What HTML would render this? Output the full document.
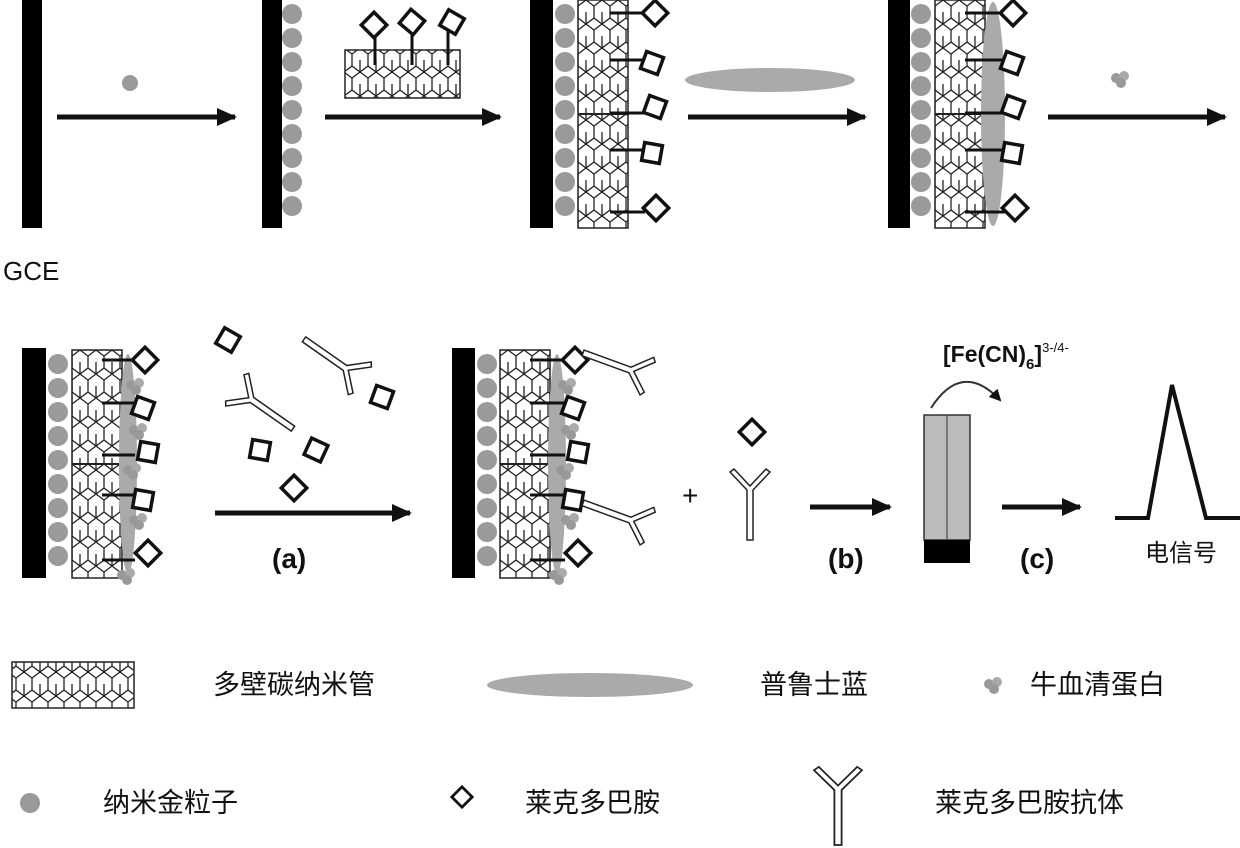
<!DOCTYPE html>
<html><head><meta charset="utf-8"><style>
html,body{margin:0;padding:0;background:#fff;width:1240px;height:848px;overflow:hidden}
svg{display:block}
.cn{font-family:"Liberation Sans","Noto Sans CJK SC",sans-serif;font-size:27px;fill:#111}
.lb{font-family:"Liberation Sans",sans-serif;font-weight:bold;font-size:28px;fill:#111}
</style></head><body>
<svg width="1240" height="848" viewBox="0 0 1240 848" xmlns="http://www.w3.org/2000/svg">
<defs>
<marker id="ah" markerWidth="20" markerHeight="20" refX="18" refY="10" orient="auto" markerUnits="userSpaceOnUse"><path d="M0,1 L20,10 L0,19 z" fill="#111"/></marker>
<marker id="ah2" markerWidth="12" markerHeight="12" refX="10" refY="6" orient="auto" markerUnits="userSpaceOnUse"><path d="M0,0 L12,6 L0,12 z" fill="#111"/></marker>
<pattern id="hex" width="16" height="24" patternUnits="userSpaceOnUse">
<path d="M0,6 L8,0 L16,6 M8,0 L8,-4 M0,6 L0,18 L8,24 L16,18 L16,6 M8,12 L8,24" fill="none" stroke="#222" stroke-width="1.3"/>
</pattern>
<g id="dots">
<circle cx="0" cy="14" r="10" fill="#9a9a9a"/><circle cx="0" cy="38" r="10" fill="#9a9a9a"/><circle cx="0" cy="62" r="10" fill="#9a9a9a"/><circle cx="0" cy="86" r="10" fill="#9a9a9a"/><circle cx="0" cy="110" r="10" fill="#9a9a9a"/><circle cx="0" cy="134" r="10" fill="#9a9a9a"/><circle cx="0" cy="158" r="10" fill="#9a9a9a"/><circle cx="0" cy="182" r="10" fill="#9a9a9a"/><circle cx="0" cy="206" r="10" fill="#9a9a9a"/>
</g>
<g id="cnt">
<rect x="0" y="0" width="50" height="228" fill="url(#hex)" stroke="#222" stroke-width="1.5"/>
<line x1="0" y1="114" x2="50" y2="114" stroke="#222" stroke-width="2"/>
</g>
<rect id="dia" x="-9" y="-9" width="18" height="18" fill="#fff" stroke="#111" stroke-width="3.5"/>
<g id="ab" fill="#fff" stroke="#222" stroke-width="1.5">
<path d="M-3,0 L-3,50 L3,50 L3,0 L20,-18 L16,-21 L0,-4 L-16,-21 L-20,-18 z"/>
</g>
<g id="bsa"><circle cx="-4" cy="0" r="5" fill="#999"/><circle cx="4" cy="-2" r="5" fill="#aaa"/><circle cx="1" cy="5" r="5" fill="#999"/></g>
</defs>

<!-- Row 1 -->
<rect x="22" y="0" width="20" height="228" fill="#000"/>
<text x="3" y="280" font-family="Liberation Sans,sans-serif" font-size="26" fill="#111">GCE</text>
<line x1="57" y1="117" x2="235" y2="117" stroke="#111" stroke-width="5" marker-end="url(#ah)"/>
<circle cx="130" cy="83" r="8" fill="#999"/>

<rect x="262" y="0" width="20" height="228" fill="#000"/>
<use href="#dots" x="292" y="0"/>
<line x1="325" y1="117" x2="500" y2="117" stroke="#111" stroke-width="5" marker-end="url(#ah)"/>
<rect x="345" y="50" width="115" height="48" fill="url(#hex)" stroke="#222" stroke-width="1.5"/>
<g stroke="#111" stroke-width="3"><line x1="375" y1="30" x2="375" y2="65"/><line x1="412" y1="28" x2="412" y2="65"/><line x1="448" y1="28" x2="448" y2="65"/></g>
<use href="#dia" transform="translate(374,25) rotate(45)"/><use href="#dia" transform="translate(412,22) rotate(40)"/><use href="#dia" transform="translate(452,22) rotate(30)"/>

<rect x="530" y="0" width="23" height="228" fill="#000"/>
<use href="#dots" x="565" y="0"/>
<use href="#cnt" x="578" y="0"/>
<g stroke="#111" stroke-width="3"><line x1="610" y1="13" x2="645" y2="13"/><line x1="610" y1="60" x2="645" y2="60"/><line x1="610" y1="113" x2="645" y2="113"/><line x1="610" y1="150" x2="645" y2="150"/><line x1="610" y1="212" x2="645" y2="212"/></g>
<use href="#dia" transform="translate(655,13) rotate(45)"/><use href="#dia" transform="translate(652,63) rotate(20)"/><use href="#dia" transform="translate(655,107) rotate(20)"/><use href="#dia" transform="translate(652,153) rotate(10)"/><use href="#dia" transform="translate(656,208) rotate(45)"/>
<line x1="688" y1="117" x2="865" y2="117" stroke="#111" stroke-width="5" marker-end="url(#ah)"/>
<ellipse cx="770" cy="80" rx="85" ry="12" fill="#aaa"/>

<rect x="888" y="0" width="22" height="228" fill="#000"/>
<use href="#dots" x="921" y="0"/>
<use href="#cnt" x="935" y="0"/>
<ellipse cx="993" cy="114" rx="12" ry="112" fill="#aaa"/>
<g stroke="#111" stroke-width="3"><line x1="965" y1="13" x2="1005" y2="13"/><line x1="965" y1="60" x2="1005" y2="60"/><line x1="965" y1="113" x2="1005" y2="113"/><line x1="965" y1="150" x2="1005" y2="150"/><line x1="965" y1="212" x2="1005" y2="212"/></g>
<use href="#dia" transform="translate(1013,13) rotate(45)"/><use href="#dia" transform="translate(1012,63) rotate(20)"/><use href="#dia" transform="translate(1013,107) rotate(20)"/><use href="#dia" transform="translate(1012,153) rotate(10)"/><use href="#dia" transform="translate(1015,208) rotate(45)"/>
<line x1="1048" y1="117" x2="1225" y2="117" stroke="#111" stroke-width="5" marker-end="url(#ah)"/>
<use href="#bsa" x="1120" y="78"/>

<!-- Row 2 -->
<rect x="22" y="348" width="24" height="230" fill="#000"/>
<use href="#dots" x="58" y="350"/>
<use href="#cnt" x="72" y="350"/>
<ellipse cx="128" cy="464" rx="9" ry="110" fill="#aaa"/>
<g stroke="#111" stroke-width="3"><line x1="102" y1="360" x2="135" y2="360"/><line x1="102" y1="403" x2="135" y2="403"/><line x1="102" y1="455" x2="135" y2="455"/><line x1="102" y1="495" x2="135" y2="495"/><line x1="102" y1="560" x2="135" y2="560"/></g>
<use href="#dia" transform="translate(145,360) rotate(45)"/><use href="#dia" transform="translate(143,408) rotate(20)"/><use href="#dia" transform="translate(148,452) rotate(10)"/><use href="#dia" transform="translate(143,500) rotate(10)"/><use href="#dia" transform="translate(148,553) rotate(45)"/>
<use href="#bsa" x="135" y="385"/><use href="#bsa" x="138" y="430"/><use href="#bsa" x="132" y="470"/><use href="#bsa" x="138" y="520"/><use href="#bsa" x="126" y="575"/>

<use href="#dia" transform="translate(228,340) rotate(30)"/>
<use href="#ab" transform="translate(252,400) rotate(-55)"/>
<use href="#ab" transform="translate(345,368) rotate(125)"/>
<use href="#dia" transform="translate(382,397) rotate(20)"/>
<use href="#dia" transform="translate(260,450) rotate(10)"/>
<use href="#dia" transform="translate(316,450) rotate(25)"/>
<use href="#dia" transform="translate(294,488) rotate(45)"/>
<line x1="215" y1="513" x2="410" y2="513" stroke="#111" stroke-width="5" marker-end="url(#ah)"/>
<text class="lb" x="272" y="568">(a)</text>

<rect x="452" y="348" width="23" height="230" fill="#000"/>
<use href="#dots" x="487" y="350"/>
<use href="#cnt" x="500" y="350"/>
<ellipse cx="557" cy="464" rx="9" ry="110" fill="#aaa"/>
<g stroke="#111" stroke-width="3"><line x1="530" y1="360" x2="565" y2="360"/><line x1="530" y1="403" x2="565" y2="403"/><line x1="530" y1="455" x2="565" y2="455"/><line x1="530" y1="495" x2="565" y2="495"/><line x1="530" y1="560" x2="565" y2="560"/></g>
<use href="#dia" transform="translate(575,360) rotate(45)"/><use href="#dia" transform="translate(573,408) rotate(20)"/><use href="#dia" transform="translate(578,452) rotate(10)"/><use href="#dia" transform="translate(573,500) rotate(10)"/><use href="#dia" transform="translate(578,553) rotate(45)"/>
<use href="#bsa" x="567" y="385"/><use href="#bsa" x="570" y="430"/><use href="#bsa" x="565" y="470"/><use href="#bsa" x="570" y="520"/><use href="#bsa" x="558" y="575"/>
<use href="#ab" transform="translate(630,370) rotate(110)"/>
<use href="#ab" transform="translate(630,520) rotate(110)"/>

<text x="682" y="505" font-family="Liberation Sans,sans-serif" font-size="28" fill="#111">+</text>
<use href="#dia" transform="translate(752,432) rotate(45)"/>
<use href="#ab" x="750" y="490"/>
<line x1="810" y1="507" x2="890" y2="507" stroke="#111" stroke-width="5" marker-end="url(#ah)"/>
<text class="lb" x="828" y="568">(b)</text>

<text class="lb" x="943" y="362" style="font-size:23px">[Fe(CN)<tspan font-size="15" dy="7">6</tspan><tspan dy="-7">]</tspan><tspan font-size="13" font-weight="normal" dy="-10">3-/4-</tspan></text>
<path d="M931,408 Q962,360 1000,400" fill="none" stroke="#333" stroke-width="2" marker-end="url(#ah2)"/>
<rect x="924" y="415" width="46" height="125" fill="#bbb" stroke="#333" stroke-width="1.5"/>
<line x1="947" y1="415" x2="947" y2="540" stroke="#333" stroke-width="1"/>
<rect x="924" y="540" width="46" height="23" fill="#000"/>
<line x1="1002" y1="507" x2="1080" y2="507" stroke="#111" stroke-width="5" marker-end="url(#ah)"/>
<text class="lb" x="1020" y="568">(c)</text>
<path d="M1115,518 L1148,518 L1172,385 L1206,518 L1240,518" fill="none" stroke="#111" stroke-width="4"/>
<text class="cn" x="1145" y="561" style="font-size:24px">电信号</text>

<!-- Legend -->
<rect x="12" y="662" width="122" height="46" fill="url(#hex)" stroke="#222" stroke-width="1.5"/>
<text class="cn" x="213" y="694">多壁碳纳米管</text>
<ellipse cx="590" cy="685" rx="103" ry="12" fill="#aaa"/>
<text class="cn" x="760" y="694">普鲁士蓝</text>
<use href="#bsa" x="993" y="684"/>
<text class="cn" x="1030" y="694">牛血清蛋白</text>

<circle cx="30" cy="803" r="10" fill="#999"/>
<text class="cn" x="103" y="812">纳米金粒子</text>
<use href="#dia" transform="translate(462,797) rotate(45) scale(0.8)"/>
<text class="cn" x="525" y="812">莱克多巴胺</text>
<use href="#ab" transform="translate(838,790) scale(1.2,1.1)"/>
<text class="cn" x="935" y="812">莱克多巴胺抗体</text>
</svg>
</body></html>
